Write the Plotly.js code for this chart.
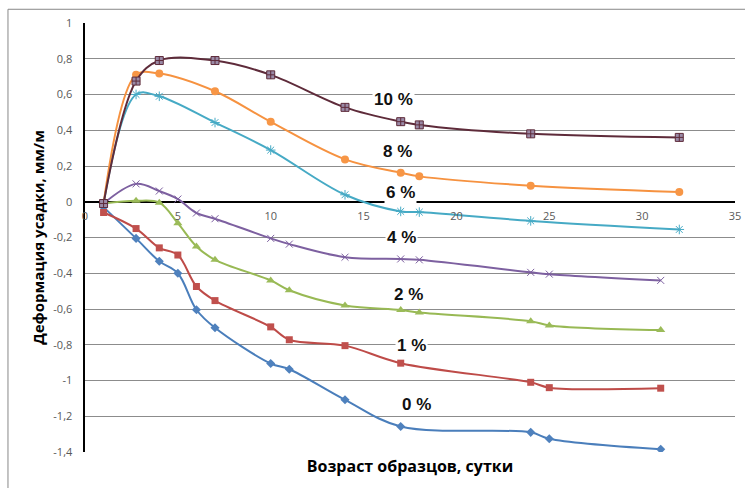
<!DOCTYPE html>
<html>
<head>
<meta charset="utf-8">
<script src="https://cdn.plot.ly/plotly-3.0.1.min.js"></script>
<style>html,body{margin:0;padding:0;background:#fff;}#chart{width:745px;height:488px;}</style>
</head>
<body>
<div id="chart"></div>
<script>
// Data (age in days, shrinkage deformation mm/m)
const x0 = [1, 2.75, 4, 5, 6, 7, 10, 11, 14, 17, 24, 25, 31];
const y0 = [-0.03, -0.205, -0.333, -0.4, -0.604, -0.705, -0.905, -0.937, -1.108, -1.257, -1.29, -1.326, -1.385];
const x1 = [1, 2.75, 4, 5, 6, 7, 10, 11, 14, 17, 24, 25, 31];
const y1 = [-0.06, -0.15, -0.258, -0.298, -0.474, -0.553, -0.7, -0.772, -0.805, -0.903, -1.01, -1.04, -1.043];
const x2 = [1, 2.75, 4, 5, 6, 7, 10, 11, 14, 17, 18, 24, 25, 31];
const y2 = [-0.01, 0.005, -0.005, -0.12, -0.25, -0.325, -0.44, -0.495, -0.58, -0.605, -0.62, -0.668, -0.692, -0.718];
const x4 = [1, 2.75, 4, 5, 6, 7, 10, 11, 14, 17, 18, 24, 25, 31];
const y4 = [-0.01, 0.1, 0.06, 0.015, -0.063, -0.095, -0.205, -0.237, -0.31, -0.32, -0.325, -0.395, -0.405, -0.44];
const x6 = [1, 2.75, 4, 7, 10, 14, 17, 18, 24, 32];
const y6 = [-0.01, 0.6, 0.59, 0.443, 0.289, 0.039, -0.054, -0.058, -0.107, -0.155];
const x8 = [1, 2.75, 4, 7, 10, 14, 17, 18, 24, 32];
const y8 = [-0.01, 0.71, 0.717, 0.618, 0.447, 0.237, 0.162, 0.142, 0.09, 0.055];
const x10 = [1, 2.75, 4, 7, 10, 14, 17, 18, 24, 32];
const y10 = [-0.01, 0.675, 0.79, 0.79, 0.71, 0.528, 0.448, 0.43, 0.38, 0.36];

const seriesLabels = ['0 %', '1 %', '2 %', '4 %', '6 %', '8 %', '10 %'];
const yTickVals = [1, 0.8, 0.6, 0.4, 0.2, 0, -0.2, -0.4, -0.6, -0.8, -1, -1.2, -1.4];
const yTickText = ['1', '0,8', '0,6', '0,4', '0,2', '0', '-0,2', '-0,4', '-0,6', '-0,8', '-1', '-1,2', '-1,4'];
const xTickVals = [0, 5, 10, 15, 20, 25, 30, 35];
const xTickText = ['0', '5', '10', '15', '20', '25', '30', '35'];

function tr(x, y, name, lineColor, marker) {
  return {x: x, y: y, name: name, type: 'scatter', mode: 'lines+markers',
    line: {color: lineColor, width: 2, shape: 'spline', smoothing: 1},
    marker: marker, showlegend: false, hoverinfo: 'x+y'};
}

const traces = [
  tr(x0, y0, seriesLabels[0], '#4A7EBB', {symbol: 'diamond', size: 7, color: '#4F81BD'}),
  tr(x1, y1, seriesLabels[1], '#BE4B48', {symbol: 'square', size: 7, color: '#C0504D'}),
  tr(x2, y2, seriesLabels[2], '#98B954', {symbol: 'triangle-up', size: 8, color: '#9BBB59'}),
  tr(x4, y4, seriesLabels[3], '#7D60A0', {symbol: 'x-thin-open', size: 7, color: '#7D60A0', line: {width: 1, color: '#7D60A0'}}),
  tr(x6, y6, seriesLabels[4], '#46AAC5', {symbol: 'asterisk-open', size: 8, color: '#46AAC5', line: {width: 1, color: '#46AAC5'}}),
  tr(x8, y8, seriesLabels[5], '#F69240', {symbol: 'circle', size: 8, color: '#F79646'}),
  tr(x10, y10, seriesLabels[6], '#5E2B3A', {symbol: 'square-cross', size: 8, color: '#9A8AA6', line: {width: 1, color: '#5E2B3A'}})
];

// label placement (annotation settings)
const labelX = [17.85, 17.6, 17.4, 17.05, 17.0, 16.8, 16.6];
const labelY = [-1.134, -0.804, -0.518, -0.2, 0.05, 0.279, 0.574];
const annotations = seriesLabels.map((t, i) => ({
  x: labelX[i], y: labelY[i], xref: 'x', yref: 'y', text: '<b>' + t + '</b>', showarrow: false,
  font: {family: 'Liberation Sans, Arial, sans-serif', size: 17, color: '#111'},
  bgcolor: '#ffffff', borderpad: 1, xanchor: 'center', yanchor: 'middle'
}));

const layout = {
  width: 745, height: 488,
  margin: {l: 85, r: 10, t: 23, b: 36},
  paper_bgcolor: '#ffffff', plot_bgcolor: '#ffffff',
  font: {family: 'Open Sans, sans-serif', color: '#595959', size: 11},
  xaxis: {
    range: [0, 35], showgrid: false, zeroline: false, showline: false,
    showticklabels: false, ticks: '',
    title: {text: '<b>Возраст образцов, сутки</b>', standoff: 8,
      font: {family: 'Open Sans, sans-serif', size: 16, color: '#000'}}
  },
  xaxis2: {
    overlaying: 'x', matches: 'x', anchor: 'free', position: 1.4 / 2.4,
    range: [0, 35], showgrid: false, zeroline: false, showline: false,
    tickmode: 'array', tickvals: xTickVals, ticktext: xTickText, ticks: '',
    ticklabelstandoff: 6, tickfont: {size: 11, color: '#595959'}
  },
  yaxis: {
    range: [-1.4, 1], tickmode: 'array', tickvals: yTickVals, ticktext: yTickText,
    showgrid: true, gridcolor: '#8C8C8C', gridwidth: 1,
    zeroline: true, zerolinecolor: '#000000', zerolinewidth: 2,
    showline: true, linecolor: '#000000', linewidth: 2.5, ticks: '',
    ticklabelstandoff: 8, tickfont: {size: 11, color: '#595959'},
    title: {text: '<b>Деформация усадки, мм/м</b>', standoff: 5,
      font: {family: 'Open Sans, sans-serif', size: 15, color: '#000'}}
  },
  annotations: annotations,
  shapes: [{type: 'rect', xref: 'paper', yref: 'paper', x0: -0.1185, x1: 1.1, y0: -0.2, y1: 1.032,
    line: {color: '#888888', width: 1}, fillcolor: 'rgba(0,0,0,0)', layer: 'below'}]
};

// empty helper trace that activates the second x axis (tick labels along y = 0)
traces.push({x: [0, 35], y: [null, null], xaxis: 'x2', yaxis: 'y', type: 'scatter', mode: 'lines', showlegend: false, hoverinfo: 'skip'});

Plotly.newPlot('chart', traces, layout, {displayModeBar: false, staticPlot: true});
</script>
</body>
</html>
